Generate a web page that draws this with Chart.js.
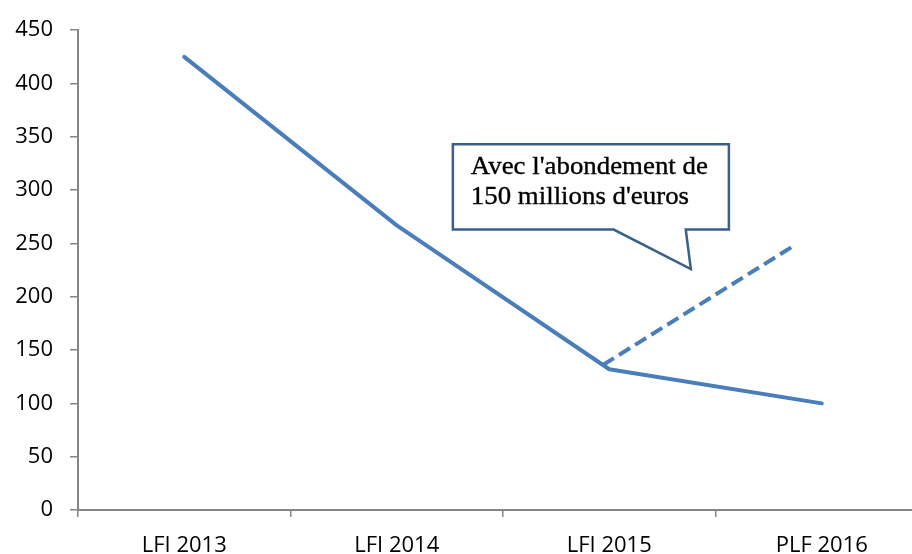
<!DOCTYPE html>
<html>
<head>
<meta charset="utf-8">
<script src="https://cdn.jsdelivr.net/npm/chart.js@4.4.0/dist/chart.umd.min.js"></script>
<style>
  html, body { margin: 0; padding: 0; background: #fff; overflow: hidden; }
  #wrap { width: 912px; height: 554px; overflow: hidden; position: relative; }
  canvas { display: block; }
</style>
</head>
<body>
<div id="wrap"><canvas id="c" width="930" height="554"></canvas></div>
<script>
// Crédits (millions d'euros) par loi de finances
const categories = ['LFI 2013', 'LFI 2014', 'LFI 2015', 'PLF 2016'];
const creditValues = [425, 267, 132, 100];

// Trajectoire avec l'abondement (x exprimé en rang de catégorie)
const abondementX = [1.97, 2.87];
const abondementY = [136, 248];

const yMin = 0, yMax = 450, yStep = 50;

// Bulle de commentaire (coordonnées dans l'unité des axes)
const calloutLines = ["Avec l'abondement de", "150 millions d'euros"];
const calloutBox = { left: 1.264, right: 2.563, top: 343, bottom: 263 };
const calloutTail = { baseLeft: 2.021, baseRight: 2.36, tipX: 2.384, tipY: 226 };

const lineColor = '#4A7EBB';
const axisColor = '#868686';

const calloutPlugin = {
  id: 'callout',
  afterDraw(chart) {
    const xs = chart.scales.x2, ys = chart.scales.y, ctx = chart.ctx;
    const L = xs.getPixelForValue(calloutBox.left), R = xs.getPixelForValue(calloutBox.right);
    const T = ys.getPixelForValue(calloutBox.top), B = ys.getPixelForValue(calloutBox.bottom);
    const bl = xs.getPixelForValue(calloutTail.baseLeft), br = xs.getPixelForValue(calloutTail.baseRight);
    const tx = xs.getPixelForValue(calloutTail.tipX), ty = ys.getPixelForValue(calloutTail.tipY);
    ctx.save();
    ctx.beginPath();
    ctx.moveTo(L, T);
    ctx.lineTo(R, T);
    ctx.lineTo(R, B);
    ctx.lineTo(br, B);
    ctx.lineTo(tx, ty);
    ctx.lineTo(bl, B);
    ctx.lineTo(L, B);
    ctx.closePath();
    ctx.fillStyle = '#ffffff';
    ctx.fill();
    ctx.lineWidth = 2.5;
    ctx.lineJoin = 'miter';
    ctx.strokeStyle = '#3A5F8B';
    ctx.stroke();

    ctx.font = '25px "Liberation Serif", serif';
    ctx.fillStyle = '#000';
    ctx.strokeStyle = '#000';
    ctx.lineWidth = 0.35;
    ctx.textBaseline = 'alphabetic';
    ctx.textAlign = 'left';
    const w = ctx.measureText(calloutLines[0]).width;
    const sx = 237 / w;
    calloutLines.forEach((line, i) => {
      ctx.save();
      ctx.translate(L + 18, T + 30 + i * 29.5);
      ctx.scale(sx, 1);
      ctx.fillText(line, 0, 0);
      ctx.strokeText(line, 0, 0);
      ctx.restore();
    });
    ctx.restore();
  }
};

new Chart(document.getElementById('c'), {
  type: 'line',
  data: {
    labels: categories,
    datasets: [
      {
        data: creditValues,
        borderColor: lineColor,
        borderWidth: 4,
        borderCapStyle: 'round',
        borderJoinStyle: 'round',
        pointRadius: 0,
        tension: 0,
        fill: false
      },
      {
        data: abondementX.map((x, i) => ({ x: x, y: abondementY[i] })),
        xAxisID: 'x2',
        borderColor: lineColor,
        borderWidth: 4,
        borderDash: [13, 6],
        borderCapStyle: 'butt',
        pointRadius: 0,
        tension: 0,
        fill: false
      }
    ]
  },
  options: {
    responsive: false,
    animation: false,
    layout: { padding: { top: 30, right: 2, left: 0, bottom: 0 } },
    plugins: { legend: { display: false }, tooltip: { enabled: false } },
    scales: {
      x: {
        type: 'category',
        offset: true,
        grid: { display: true, drawOnChartArea: false, offset: true, color: axisColor, lineWidth: 1.5, tickLength: 7 },
        border: { display: true, color: axisColor, width: 2 },
        ticks: { color: '#000', font: { family: '"Open Sans"', size: 22 }, padding: 16, maxRotation: 0, autoSkip: false },
        afterFit(scale) { scale.height = 44; }
      },
      x2: {
        type: 'linear',
        display: false,
        min: -0.5,
        max: 3.5
      },
      y: {
        min: yMin,
        max: yMax,
        ticks: { stepSize: yStep, color: '#000', font: { family: '"Open Sans"', size: 22 }, padding: 17 },
        grid: { display: true, drawOnChartArea: false, color: axisColor, lineWidth: 1.5, tickLength: 8 },
        border: { display: true, color: axisColor, width: 2 },
        afterFit(scale) { scale.width = 78; }
      }
    }
  },
  plugins: [calloutPlugin]
});
</script>
</body>
</html>
